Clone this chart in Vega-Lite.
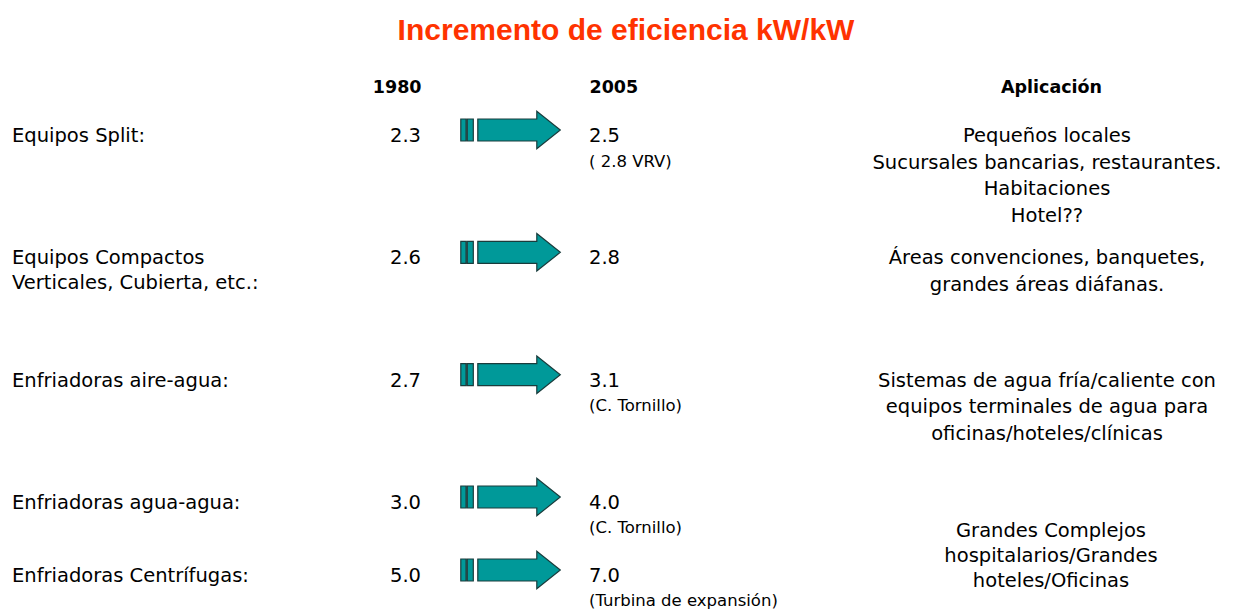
{
  "$schema": "https://vega.github.io/schema/vega-lite/v6.json",
  "width": 1252,
  "height": 513,
  "autosize": {"type": "none"},
  "padding": {"left": 0, "top": 100, "right": 0, "bottom": 0},
  "background": "white",
  "title": {
    "text": "Incremento de eficiencia kW/kW",
    "font": "Liberation Sans",
    "fontSize": 30,
    "fontWeight": "bold",
    "color": "#FF3300",
    "anchor": "middle",
    "frame": "group",
    "offset": 32
  },
  "config": {
    "view": {"stroke": null},
    "text": {"font": "DejaVu Sans", "fontSize": 19.5, "baseline": "alphabetic", "color": "#000000"}
  },
  "datasets": {
    "tabla": [
      {"equipo": ["Equipos Split:"], "v1980": 2.3, "v2005": 2.5, "nota": "( 2.8 VRV)", "grupo": 1, "subfila": 1},
      {"equipo": ["Equipos Compactos", "Verticales, Cubierta, etc.:"], "v1980": 2.6, "v2005": 2.8, "nota": "", "grupo": 2, "subfila": 1},
      {"equipo": ["Enfriadoras aire-agua:"], "v1980": 2.7, "v2005": 3.1, "nota": "(C. Tornillo)", "grupo": 3, "subfila": 1},
      {"equipo": ["Enfriadoras agua-agua:"], "v1980": 3.0, "v2005": 4.0, "nota": "(C. Tornillo)", "grupo": 4, "subfila": 1},
      {"equipo": ["Enfriadoras Centrífugas:"], "v1980": 5.0, "v2005": 7.0, "nota": "(Turbina de expansión)", "grupo": 4, "subfila": 2}
    ],
    "aplicaciones": [
      {"grupo": 1, "texto": ["Pequeños locales", "Sucursales bancarias, restaurantes.", "Habitaciones", "Hotel??"]},
      {"grupo": 2, "texto": ["Áreas convenciones, banquetes,", "grandes áreas diáfanas."]},
      {"grupo": 3, "texto": ["Sistemas de agua fría/caliente con", "equipos terminales de agua para", "oficinas/hoteles/clínicas"]},
      {"grupo": 4, "texto": ["Grandes Complejos", "hospitalarios/Grandes", "hoteles/Oficinas"]}
    ]
  },
  "layer": [
    {
      "data": {"name": "tabla"},
      "mark": {"type": "text", "align": "left", "lineHeight": 24.5},
      "encoding": {
        "x": {
          "datum": "Equipo",
          "type": "nominal",
          "scale": {"type": "point", "domain": ["Equipo", "1980", "Flecha", "2005", "Aplicación"], "range": [12, 1050], "padding": 0},
          "axis": {
            "orient": "top",
            "title": null,
            "domain": false,
            "ticks": false,
            "tickSize": 0,
            "grid": false,
            "labelAngle": 0,
            "labelFont": "DejaVu Sans",
            "labelFontWeight": "bold",
            "labelFontSize": 17.5,
            "labelColor": "#000000",
            "labelPadding": 8,
            "labelBaseline": "alphabetic",
            "labelOverlap": false,
            "labelBound": false,
            "labelExpr": "datum.value == 'Equipo' || datum.value == 'Flecha' ? '' : datum.value",
            "labelAlign": {"condition": [{"test": "datum.value == '1980'", "value": "right"}, {"test": "datum.value == '2005'", "value": "left"}], "value": "center"},
            "labelOffset": {"condition": [{"test": "datum.value == '1980'", "value": 149.5}, {"test": "datum.value == '2005'", "value": -201.5}], "value": 1}
          }
        },
        "y": {
          "field": "grupo",
          "type": "ordinal",
          "scale": {"type": "band", "domain": [1, 2, 3, 4], "range": [42, 531.33], "paddingInner": 0, "paddingOuter": 0},
          "axis": null
        },
        "yOffset": {
          "field": "subfila",
          "type": "ordinal",
          "scale": {"type": "point", "domain": [1, 2], "range": [0, 73], "padding": 0}
        },
        "text": {"field": "equipo"}
      }
    },
    {
      "data": {"name": "tabla"},
      "mark": {"type": "text", "align": "right", "dx": 149.5},
      "encoding": {
        "x": {"datum": "1980", "type": "nominal"},
        "y": {"field": "grupo", "type": "ordinal"},
        "yOffset": {"field": "subfila", "type": "ordinal"},
        "text": {"field": "v1980", "type": "quantitative", "format": ".1f"}
      }
    },
    {
      "data": {"name": "tabla"},
      "mark": {
        "type": "point",
        "shape": "M-0.99,-0.46H-0.885V-0.02H-0.99Z M-0.86,-0.46H-0.74V-0.02H-0.86Z M-0.65,-0.46H0.53V-0.615L1,-0.24L0.53,0.135V-0.02H-0.65Z",
        "size": 10000,
        "filled": true,
        "fill": "#009999",
        "stroke": "#1A3C3C",
        "strokeWidth": 1.2,
        "opacity": 1,
        "xOffset": -20.7
      },
      "encoding": {
        "x": {"datum": "Flecha", "type": "nominal"},
        "y": {"field": "grupo", "type": "ordinal"},
        "yOffset": {"field": "subfila", "type": "ordinal"}
      }
    },
    {
      "data": {"name": "tabla"},
      "mark": {"type": "text", "align": "left", "dx": -201.5},
      "encoding": {
        "x": {"datum": "2005", "type": "nominal"},
        "y": {"field": "grupo", "type": "ordinal"},
        "yOffset": {"field": "subfila", "type": "ordinal"},
        "text": {"field": "v2005", "type": "quantitative", "format": ".1f"}
      }
    },
    {
      "data": {"name": "tabla"},
      "transform": [{"filter": "datum.nota != ''"}],
      "mark": {"type": "text", "align": "left", "dx": -201.5, "dy": 24.5, "fontSize": 16.5},
      "encoding": {
        "x": {"datum": "2005", "type": "nominal"},
        "y": {"field": "grupo", "type": "ordinal"},
        "yOffset": {"field": "subfila", "type": "ordinal"},
        "text": {"field": "nota"}
      }
    },
    {
      "data": {"name": "aplicaciones"},
      "transform": [{"filter": "datum.grupo < 4"}],
      "mark": {"type": "text", "align": "center", "lineHeight": 26.5, "dx": -3},
      "encoding": {
        "x": {"datum": "Aplicación", "type": "nominal"},
        "y": {"field": "grupo", "type": "ordinal", "bandPosition": 0},
        "text": {"field": "texto"}
      }
    },
    {
      "data": {"name": "aplicaciones"},
      "transform": [{"filter": "datum.grupo == 4"}],
      "mark": {"type": "text", "align": "center", "lineHeight": 25, "dx": 1, "dy": 28},
      "encoding": {
        "x": {"datum": "Aplicación", "type": "nominal"},
        "y": {"field": "grupo", "type": "ordinal", "bandPosition": 0},
        "text": {"field": "texto"}
      }
    }
  ]
}
